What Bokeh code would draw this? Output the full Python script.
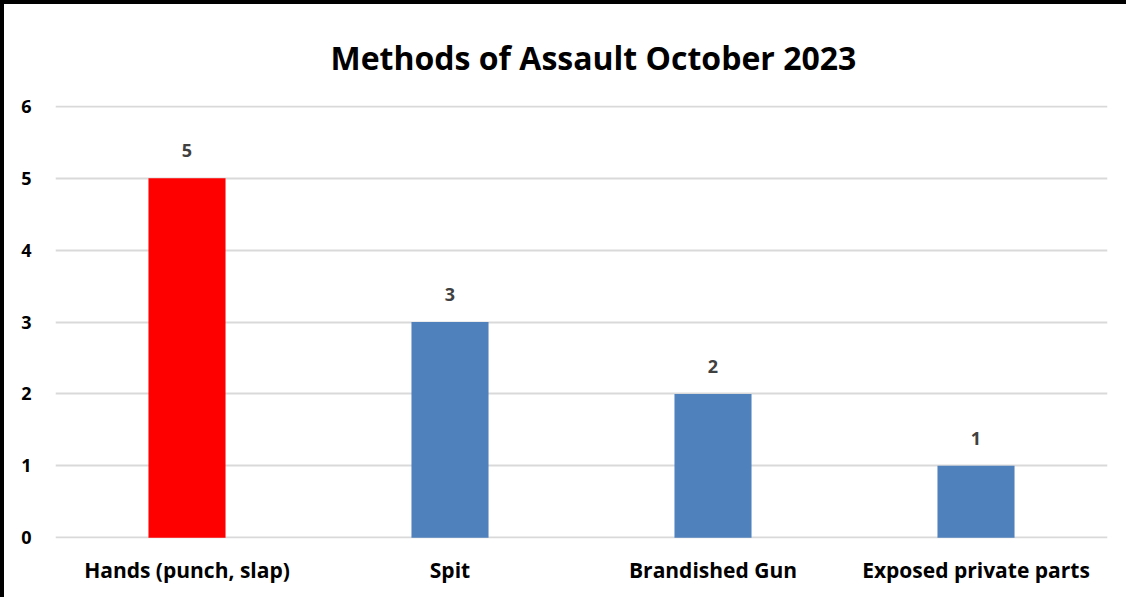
from bokeh.plotting import figure
from bokeh.models import ColumnDataSource, LabelSet, Title, Range1d
from bokeh.core.properties import value
from bokeh.embed import file_html
from bokeh.resources import INLINE

categories = ["Hands (punch, slap)", "Spit", "Brandished Gun", "Exposed private parts"]
counts = [5, 3, 2, 1]
colors = ["#FF0000", "#4F81BD", "#4F81BD", "#4F81BD"]
y_ticks = [0, 1, 2, 3, 4, 5, 6]

src = ColumnDataSource(dict(cat=categories, val=counts, color=colors, lbl=[str(v) for v in counts]))

FONT = "Open Sans"
p = figure(x_range=categories, y_range=Range1d(-0.01, 6.01), width=1126, height=597,
           output_backend="svg", toolbar_location=None,
           min_border_left=51, min_border_right=23, min_border_top=101, min_border_bottom=63)
p.styles = {"border-top": "4px solid black", "border-left": "4px solid black"}
p.x_range.range_padding = 0

p.vbar(x="cat", top="val", width=0.293, color="color", source=src, line_color=None)

labels = LabelSet(x="cat", y="val", text="lbl", source=src, text_align="center",
                  text_baseline="bottom", y_offset=21, text_font=value(FONT), text_font_style="bold",
                  text_font_size="18px", text_color="#404040")
p.add_layout(labels)

t = Title(text="Methods of Assault October 2023", align="left", text_font=FONT,
          text_font_style="bold", text_font_size="32px", text_color="#000000", offset=275,
          standoff=54)
p.add_layout(t, "above")

p.outline_line_color = None
p.xgrid.grid_line_color = None
p.ygrid.grid_line_color = "#d9d9d9"
p.ygrid.grid_line_width = 2
p.yaxis.ticker = y_ticks
p.yaxis.axis_line_color = None
p.xaxis.axis_line_color = None
for ax in (p.xaxis, p.yaxis):
    ax.major_tick_line_color = None
    ax.minor_tick_line_color = None
    ax.major_label_text_font = FONT
    ax.major_label_text_font_style = "bold"
    ax.major_label_text_color = "#000000"
p.yaxis.major_label_text_font_size = "18px"
p.xaxis.major_label_text_font_size = "21px"
p.yaxis.major_label_standoff = 18
p.xaxis.major_label_standoff = 11

open("out.html", "w").write(file_html(p, INLINE))
